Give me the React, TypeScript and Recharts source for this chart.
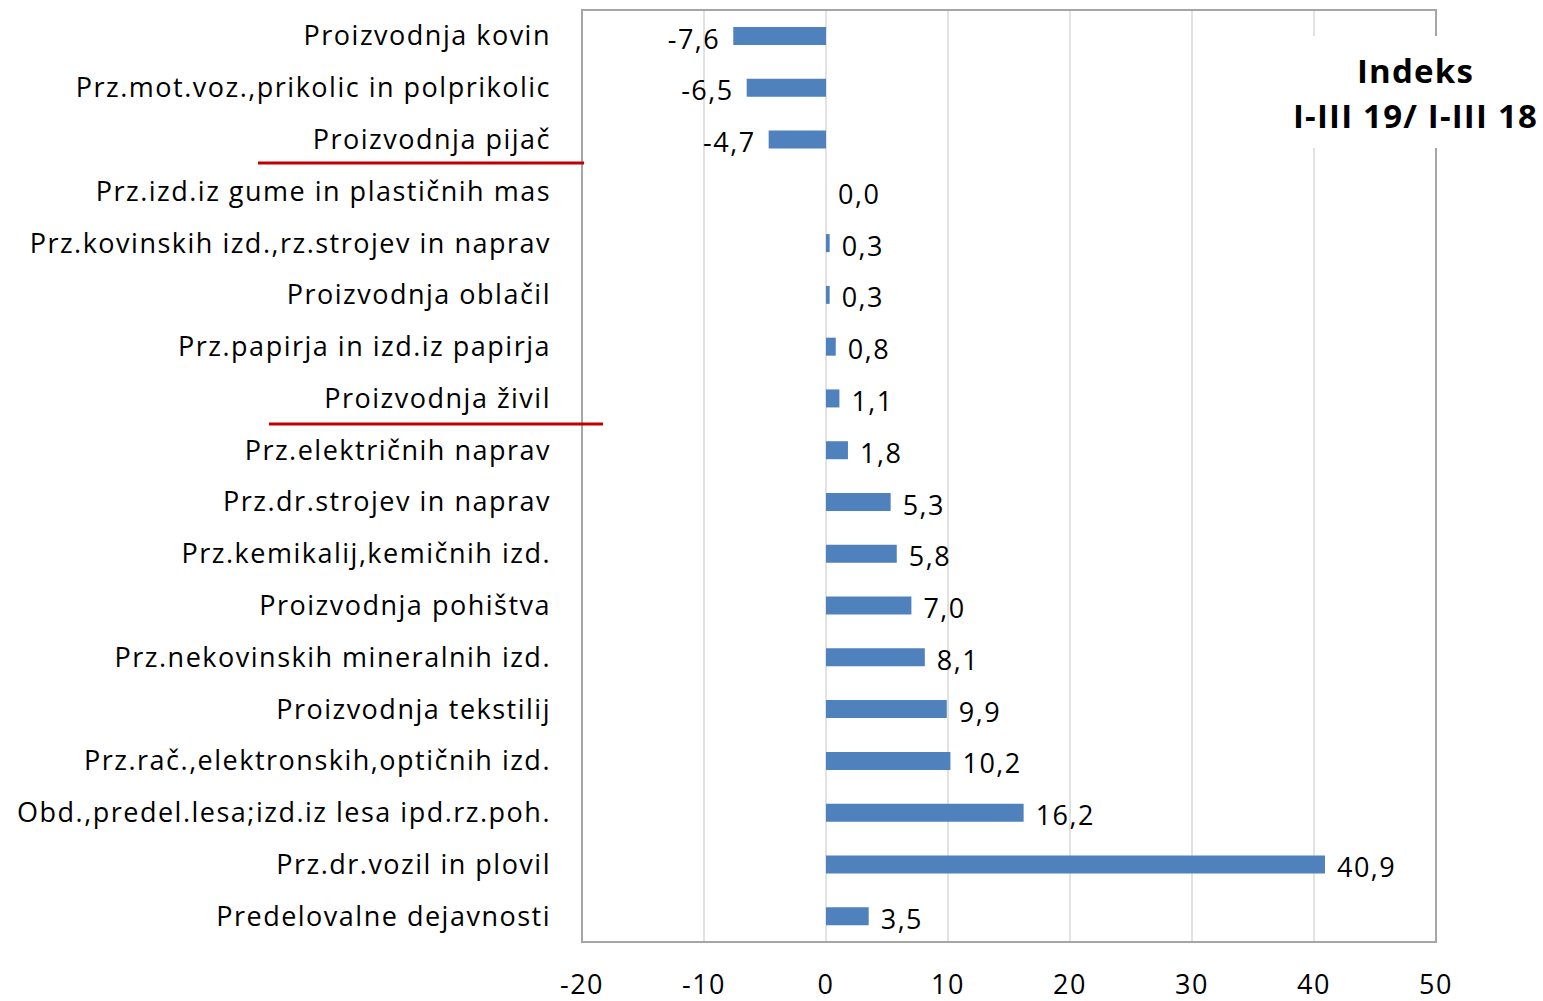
import { BarChart, Bar, XAxis, YAxis, CartesianGrid, LabelList, ReferenceArea } from 'recharts';

const categories = [
  'Proizvodnja kovin',
  'Prz.mot.voz.,prikolic in polprikolic',
  'Proizvodnja pijač',
  'Prz.izd.iz gume in plastičnih mas',
  'Prz.kovinskih izd.,rz.strojev in naprav',
  'Proizvodnja oblačil',
  'Prz.papirja in izd.iz papirja',
  'Proizvodnja živil',
  'Prz.električnih naprav',
  'Prz.dr.strojev in naprav',
  'Prz.kemikalij,kemičnih izd.',
  'Proizvodnja pohištva',
  'Prz.nekovinskih mineralnih izd.',
  'Proizvodnja tekstilij',
  'Prz.rač.,elektronskih,optičnih izd.',
  'Obd.,predel.lesa;izd.iz lesa ipd.rz.poh.',
  'Prz.dr.vozil in plovil',
  'Predelovalne dejavnosti',
];

const indexValues = [-7.6, -6.5, -4.7, 0.0, 0.3, 0.3, 0.8, 1.1, 1.8, 5.3, 5.8, 7.0, 8.1, 9.9, 10.2, 16.2, 40.9, 3.5];

const xTicks = [-20, -10, 0, 10, 20, 30, 40, 50];

const data = categories.map((name, i) => ({ name, value: indexValues[i] }));

const FONT = '"Open Sans", sans-serif';
const LS = 1.5;

const fmt = (v: number) => Number(v).toFixed(1).replace('.', ',');

function ValueLabel(props: any) {
  const { x, y, width, height, value } = props;
  const a = Number(x);
  const b = Number(x) + Number(width);
  const neg = value < 0;
  const end = neg ? Math.min(a, b) : Math.max(a, b);
  const tx = neg ? end - 13 : end + 12;
  return (
    <text
      x={tx}
      y={Number(y) + Number(height) / 2 + 2}
      textAnchor={neg ? 'end' : 'start'}
      dominantBaseline="central"
      fontSize={27}
      letterSpacing={LS}
      fontFamily={FONT}
      fill="#000"
    >
      {fmt(value)}
    </text>
  );
}

export default function App() {
  return (
    <div style={{ position: 'absolute', left: 0, top: 0, width: 1543, height: 1001, background: '#fff' }}>
      <BarChart
        width={1543}
        height={1001}
        data={data}
        layout="vertical"
        margin={{ top: 10, right: 107, bottom: 29, left: 0 }}
      >
        <CartesianGrid horizontal={false} stroke="#d9d9d9" strokeWidth={1.5} />
        <XAxis
          type="number"
          domain={[-20, 50]}
          ticks={xTicks}
          axisLine={false}
          tickLine={false}
          height={30}
          tickMargin={27}
          tick={{ fill: '#000', fontSize: 27, fontFamily: FONT, letterSpacing: LS }}
          interval={0}
        />
        <YAxis
          type="category"
          dataKey="name"
          width={582}
          axisLine={false}
          tickLine={false}
          tickMargin={25}
          interval={0}
          tick={{ fill: '#000', fontSize: 27, fontFamily: FONT, letterSpacing: LS }}
        />
        <ReferenceArea x1={-20} x2={50} fill="none" stroke="#a6a6a6" strokeWidth={2} ifOverflow="visible" />
        <Bar dataKey="value" fill="#4f81bd" barSize={18} minPointSize={0.01} isAnimationActive={false}>
          <LabelList dataKey="value" content={ValueLabel} />
        </Bar>
      </BarChart>
      <svg width={1543} height={1001} style={{ position: 'absolute', left: 0, top: 0, pointerEvents: 'none' }}>
        <defs>
          <filter id="sh" x="-5%" y="-100%" width="110%" height="400%">
            <feDropShadow dx="0" dy="3" stdDeviation="2" floodColor="#000" floodOpacity="0.35" />
          </filter>
        </defs>
        <line x1={258} x2={584} y1={163} y2={163} stroke="#c00000" strokeWidth={3} />
        <line x1={269} x2={603} y1={424} y2={424} stroke="#c00000" strokeWidth={3} />
        <line x1={204} x2={577} y1={960} y2={960} stroke="#1f497d" strokeWidth={6} filter="url(#sh)" />
      </svg>
      <div
        style={{
          position: 'absolute',
          left: 1288,
          top: 36,
          width: 255,
          height: 112,
          background: '#fff',
          fontFamily: FONT,
          fontWeight: 700,
          fontSize: 33,
          letterSpacing: 1.2,
          lineHeight: '45px',
          textAlign: 'center',
          color: '#000',
          paddingTop: 12,
          boxSizing: 'border-box',
          whiteSpace: 'nowrap',
        }}
      >
        <div>Indeks</div>
        <div>I-III 19/ I-III 18</div>
      </div>
    </div>
  );
}
